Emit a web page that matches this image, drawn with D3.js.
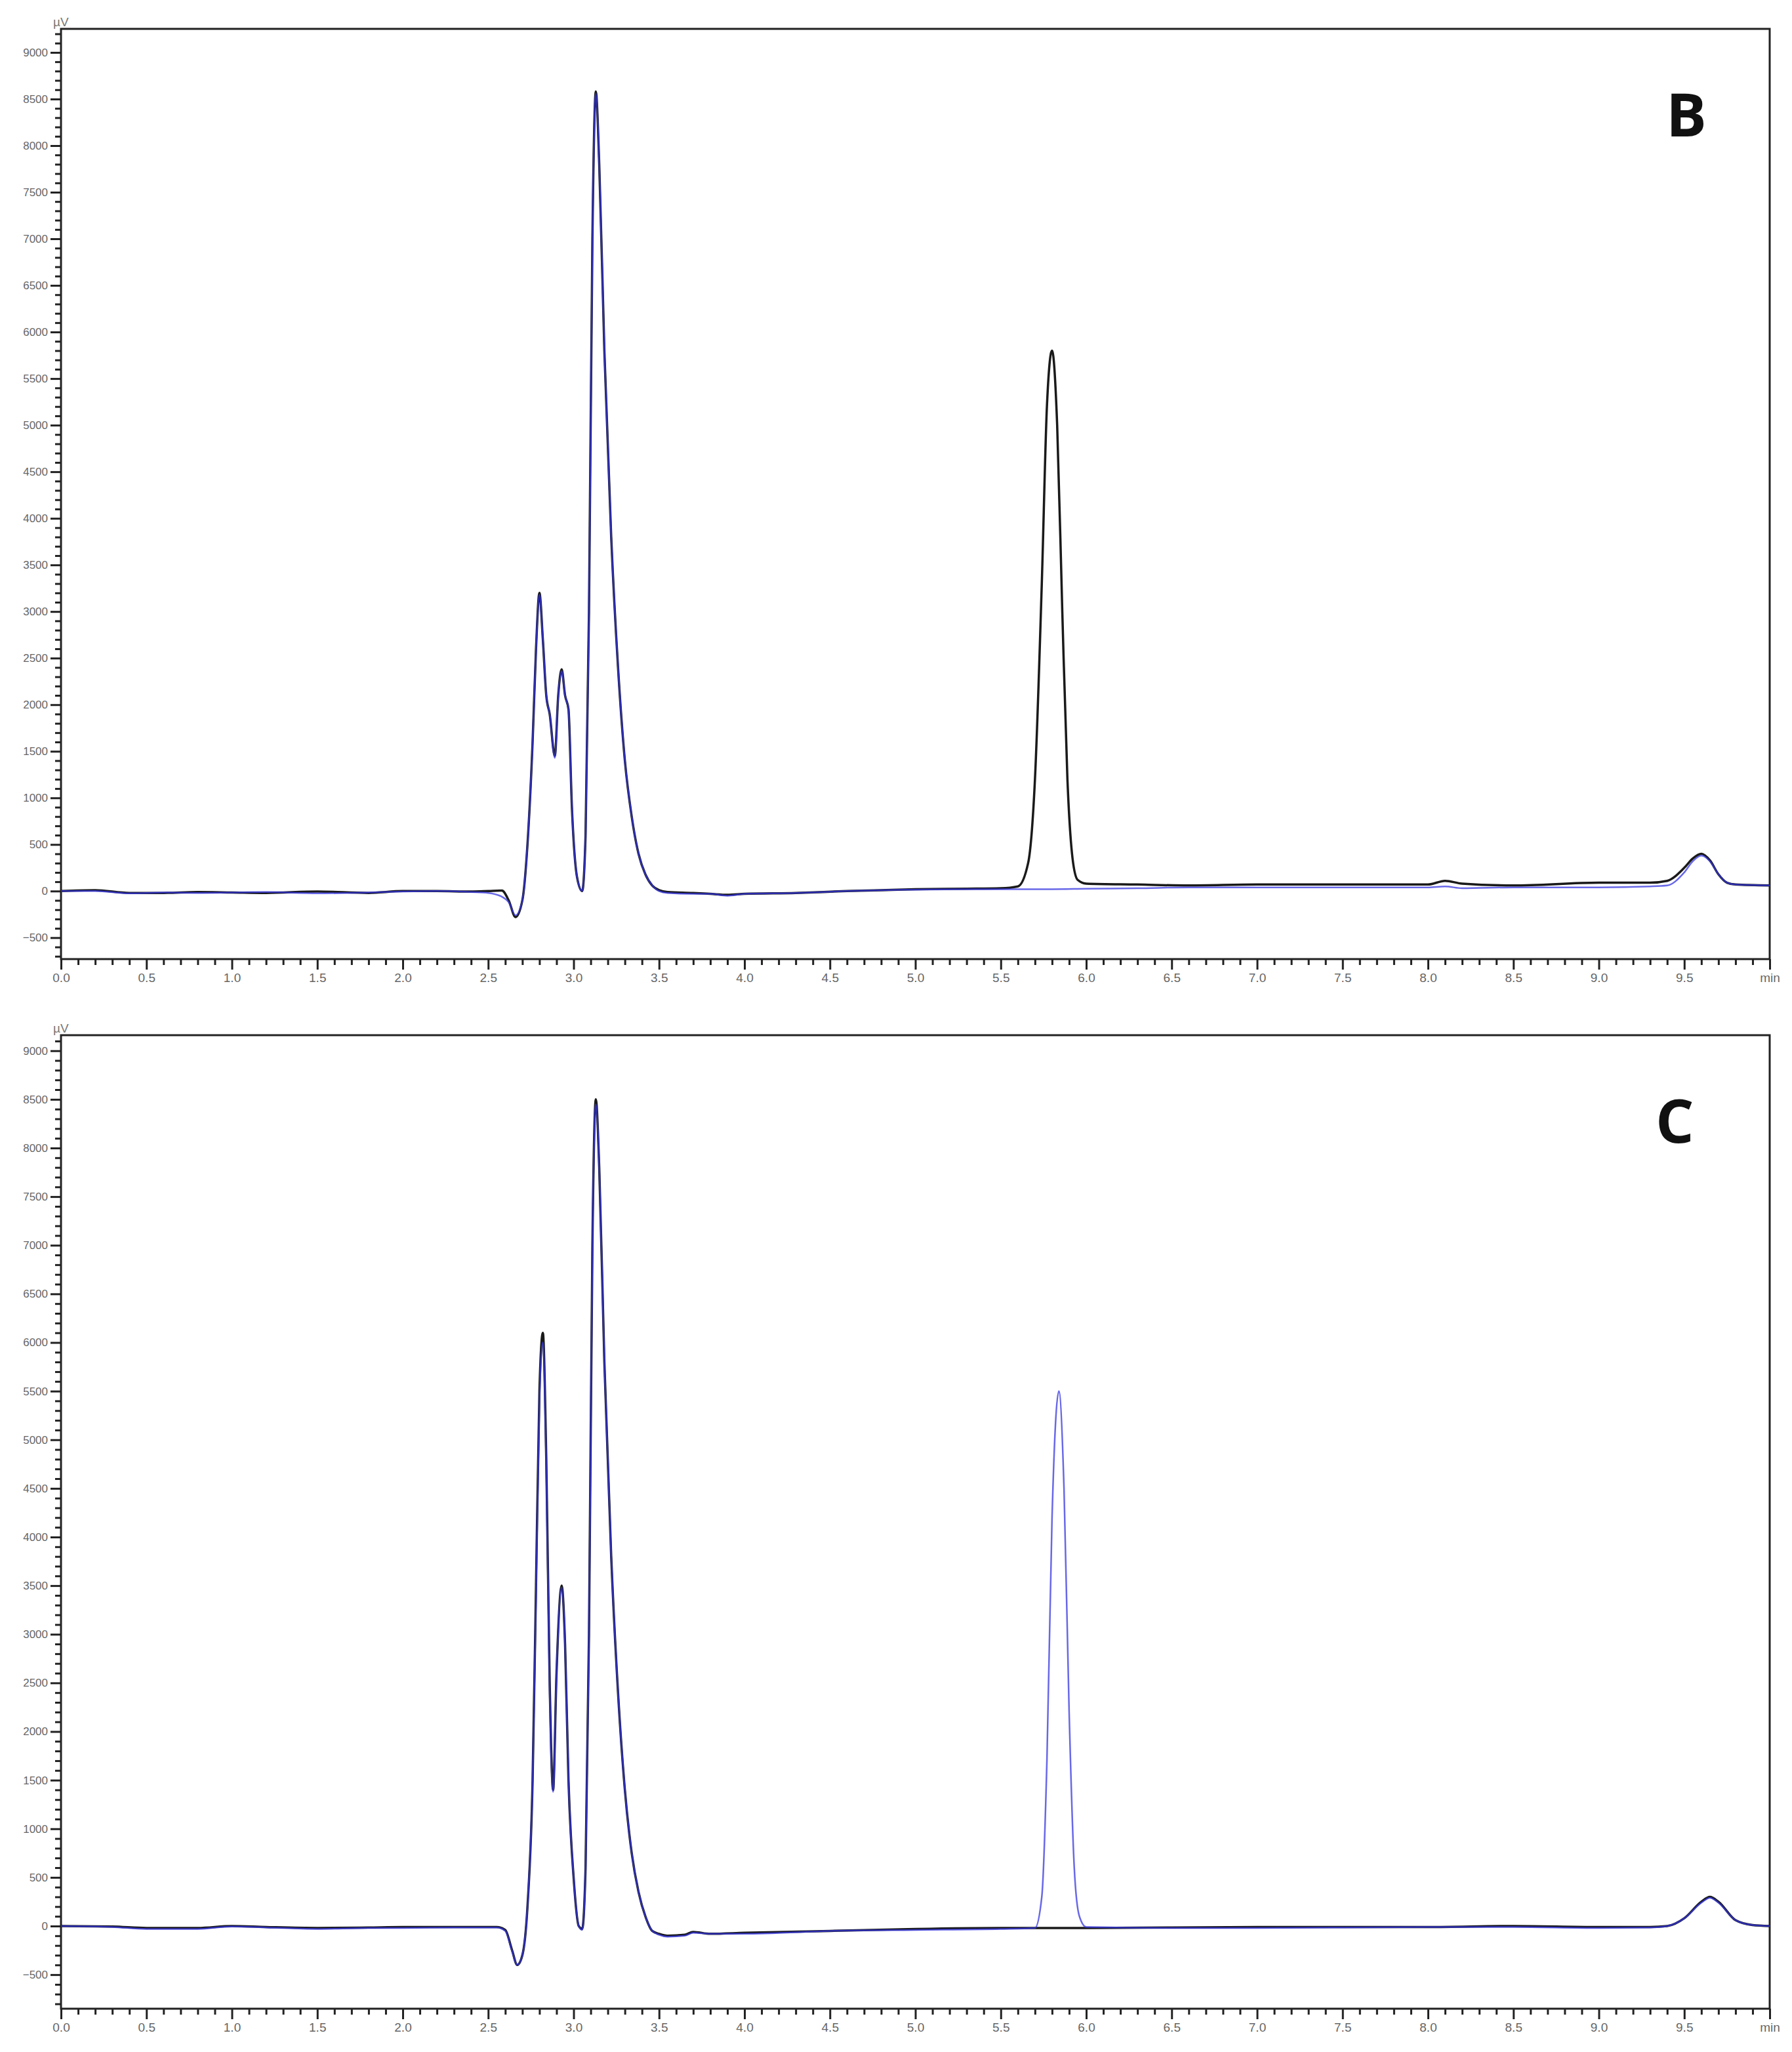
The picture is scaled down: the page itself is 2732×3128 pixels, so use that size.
<!DOCTYPE html>
<html><head><meta charset="utf-8">
<script src="https://cdn.jsdelivr.net/npm/d3@7"></script>
<style>body{margin:0;background:#fff}</style></head>
<body><svg id="c" width="2732" height="3128"></svg>
<script>
// ---- data: [time (min), signal (µV)] ----
const bBlack = [[0,0],[0.2,10],[0.4,-20],[0.6,-20],[0.8,-10],[1.0,-15],[1.2,-20],[1.5,-5],[1.8,-20],[2.0,0],[2.2,0],[2.4,-5],[2.5,0],[2.58,5],[2.62,-100],[2.66,-280],[2.70,-100],[2.73,500],[2.76,1600],[2.78,2600],[2.80,3200],[2.82,2700],[2.84,2100],[2.86,1900],[2.89,1450],[2.91,2100],[2.93,2380],[2.95,2100],[2.97,1950],[2.99,900],[3.02,150],[3.05,0],[3.07,600],[3.09,3000],[3.11,7000],[3.13,8580],[3.15,7800],[3.18,5800],[3.22,3800],[3.26,2400],[3.30,1400],[3.34,800],[3.38,400],[3.42,180],[3.46,60],[3.5,10],[3.55,-10],[3.7,-20],[3.8,-30],[3.9,-40],[4.0,-30],[4.3,-20],[4.6,0],[4.8,10],[5.0,20],[5.3,25],[5.5,30],[5.6,50],[5.66,300],[5.70,1200],[5.74,3300],[5.77,5200],[5.80,5800],[5.83,5000],[5.86,3000],[5.89,1200],[5.92,350],[5.95,120],[6.0,80],[6.3,70],[6.6,60],[7.0,70],[7.5,70],[8.0,70],[8.1,110],[8.2,80],[8.5,60],[9.0,90],[9.3,90],[9.4,110],[9.5,250],[9.55,350],[9.6,400],[9.65,330],[9.7,180],[9.75,90],[9.8,70],[10,60]];
const bBlue = [[0,0],[0.2,0],[0.4,-25],[0.6,-15],[0.8,-20],[1.0,-15],[1.2,-10],[1.5,-25],[1.8,-15],[2.0,-5],[2.2,0],[2.4,-10],[2.5,-20],[2.58,-60],[2.62,-120],[2.66,-260],[2.70,-100],[2.73,500],[2.76,1600],[2.78,2600],[2.80,3180],[2.82,2700],[2.84,2100],[2.86,1900],[2.89,1430],[2.91,2100],[2.93,2360],[2.95,2100],[2.97,1950],[2.99,900],[3.02,150],[3.05,0],[3.07,600],[3.09,3000],[3.11,7000],[3.13,8560],[3.15,7800],[3.18,5800],[3.22,3800],[3.26,2400],[3.30,1400],[3.34,800],[3.38,400],[3.42,180],[3.46,60],[3.5,0],[3.55,-20],[3.7,-30],[3.8,-30],[3.9,-50],[4.0,-30],[4.3,-20],[4.6,0],[4.8,10],[5.0,15],[5.3,20],[5.5,20],[5.8,20],[6.0,25],[6.3,30],[6.6,40],[7.0,40],[7.5,40],[8.0,40],[8.1,50],[8.2,30],[8.5,40],[9.0,40],[9.3,50],[9.4,60],[9.5,200],[9.55,320],[9.6,380],[9.65,320],[9.7,180],[9.75,90],[9.8,70],[10,60]];
const cBlack = [[0,0],[0.3,-5],[0.5,-20],[0.8,-20],[1.0,0],[1.2,-10],[1.5,-20],[1.8,-15],[2.0,-10],[2.3,-10],[2.55,-10],[2.6,-40],[2.64,-250],[2.67,-400],[2.70,-300],[2.73,200],[2.76,1500],[2.78,3500],[2.80,5500],[2.82,6100],[2.84,4800],[2.86,2500],[2.88,1400],[2.90,2600],[2.93,3500],[2.95,2900],[2.97,1500],[3.0,500],[3.03,0],[3.05,-30],[3.07,600],[3.09,3000],[3.11,7000],[3.13,8500],[3.15,7800],[3.18,5800],[3.22,3800],[3.26,2400],[3.30,1400],[3.34,750],[3.38,350],[3.42,100],[3.46,-50],[3.5,-80],[3.55,-100],[3.65,-90],[3.7,-60],[3.8,-80],[4.0,-70],[4.5,-50],[5.0,-30],[5.5,-20],[5.7,-20],[6.0,-20],[7.0,-10],[8.0,-10],[8.5,0],[9.0,-10],[9.3,-10],[9.4,0],[9.5,80],[9.6,250],[9.65,300],[9.7,250],[9.8,60],[9.9,10],[10,0]];
const cBlue = [[0,0],[0.3,-10],[0.5,-30],[0.8,-30],[1.0,-5],[1.2,-15],[1.5,-30],[1.8,-20],[2.0,-20],[2.3,-15],[2.55,-15],[2.6,-50],[2.64,-260],[2.67,-400],[2.70,-300],[2.73,200],[2.76,1500],[2.78,3400],[2.80,5400],[2.82,6000],[2.84,4700],[2.86,2400],[2.88,1380],[2.90,2600],[2.93,3480],[2.95,2900],[2.97,1500],[3.0,500],[3.03,0],[3.05,-40],[3.07,600],[3.09,3000],[3.11,7000],[3.13,8450],[3.15,7800],[3.18,5800],[3.22,3800],[3.26,2400],[3.30,1400],[3.34,750],[3.38,350],[3.42,100],[3.46,-50],[3.5,-90],[3.55,-110],[3.65,-100],[3.7,-70],[3.8,-80],[4.0,-80],[4.5,-50],[5.0,-40],[5.5,-30],[5.7,-20],[5.74,300],[5.77,1700],[5.80,4200],[5.84,5500],[5.87,4500],[5.90,2200],[5.93,600],[5.96,100],[6.0,-10],[6.5,-20],[7.0,-20],[8.0,-10],[8.5,-10],[9.0,-20],[9.3,-15],[9.4,0],[9.5,80],[9.6,240],[9.65,290],[9.7,240],[9.8,60],[9.9,10],[10,0]];
const xTicks = [0,0.5,1,1.5,2,2.5,3,3.5,4,4.5,5,5.5,6,6.5,7,7.5,8,8.5,9,9.5];
const yTicks = [-500,0,500,1000,1500,2000,2500,3000,3500,4000,4500,5000,5500,6000,6500,7000,7500,8000,8500,9000];
const panels = [
  {label:"B", top:44, bottom:1462, dom:[-730,9253], black:bBlack, blue:bBlue, lx:2540, ly:208},
  {label:"C", top:1578, bottom:3062, dom:[-850,9160], black:cBlack, blue:cBlue, lx:2524, ly:1742}
];
const svg = d3.select("#c");
const L = 93, R = 2698;
panels.forEach(p => {
  const x = d3.scaleLinear().domain([0,10]).range([L,R]);
  const y = d3.scaleLinear().domain(p.dom).range([p.bottom,p.top]);
  const g = svg.append("g");
  g.append("rect").attr("x",L).attr("y",p.top).attr("width",R-L).attr("height",p.bottom-p.top)
    .attr("fill","none").attr("stroke","#222").attr("stroke-width",3);
  const xm = d3.range(0,100).map(i=>i/10).filter(v=>Math.abs(v*2-Math.round(v*2))>1e-6);
  g.append("g").attr("transform",`translate(0,${p.bottom})`)
    .call(d3.axisBottom(x).tickValues(xm).tickSize(9).tickFormat(""))
    .call(a=>a.select(".domain").remove()).selectAll("line").attr("stroke","#222").attr("stroke-width",3);
  const ym = d3.range(Math.ceil(p.dom[0]/100),Math.floor(p.dom[1]/100)+1).map(i=>i*100).filter(v=>v%500!==0);
  g.append("g").attr("transform",`translate(${L},0)`)
    .call(d3.axisLeft(y).tickValues(ym).tickSize(9).tickFormat(""))
    .call(a=>a.select(".domain").remove()).selectAll("line").attr("stroke","#222").attr("stroke-width",3);
  const xa = g.append("g").attr("transform",`translate(0,${p.bottom})`)
    .call(d3.axisBottom(x).tickValues(xTicks.concat([10])).tickSize(16).tickPadding(6)
      .tickFormat(d=>d===10?"min":d3.format(".1f")(d)));
  xa.select(".domain").remove();
  xa.selectAll("line").attr("stroke","#222").attr("stroke-width",3);
  xa.selectAll("text").attr("font-family","Liberation Sans, sans-serif").attr("font-size",19).attr("fill","#666");
  const ya = g.append("g").attr("transform",`translate(${L},0)`)
    .call(d3.axisLeft(y).tickValues(yTicks).tickSize(16).tickPadding(4).tickFormat(d3.format("d")));
  ya.select(".domain").remove();
  ya.selectAll("line").attr("stroke","#222").attr("stroke-width",3);
  ya.selectAll("text").attr("font-family","Liberation Sans, sans-serif").attr("font-size",17).attr("fill","#666");
  g.append("text").attr("x",L-12).attr("y",p.top-4).text("µV")
    .attr("font-family","Liberation Sans, sans-serif").attr("font-size",19).attr("fill","#777");
  const line = d3.line().x(d=>x(d[0])).y(d=>y(d[1])).curve(d3.curveMonotoneX);
  g.append("path").datum(p.black).attr("d",line).attr("fill","none").attr("stroke","#1a1a1a").attr("stroke-width",3.5);
  g.append("path").datum(p.blue).attr("d",line).attr("fill","none").attr("stroke","#3535e0").attr("stroke-width",2.5).attr("opacity",0.75);
  g.append("text").attr("x",p.lx).attr("y",p.ly).text(p.label)
    .attr("font-family","Open Sans, sans-serif").attr("font-weight","bold").attr("font-size",92).attr("fill","#111");
});
</script></body></html>
